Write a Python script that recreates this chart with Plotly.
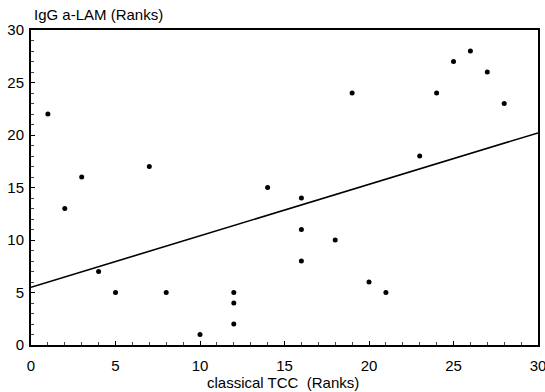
import plotly.graph_objects as go

tcc_ranks = [1, 2, 3, 4, 5, 7, 8, 10, 12, 12, 12, 14, 16, 16, 16, 18, 19, 20, 21, 23, 24, 25, 26, 27, 28]
lam_ranks = [22, 13, 16, 7, 5, 17, 5, 1, 5, 4, 2, 15, 14, 11, 8, 10, 24, 6, 5, 18, 24, 27, 28, 26, 23]

fit_x = [0, 30]
fit_y = [5.5, 20.2]

tick_vals = [0, 5, 10, 15, 20, 25, 30]

font = dict(family="Liberation Sans, Arial, sans-serif", size=15, color="black")

W, H = 545, 392
ML, MR, MT, MB = 31, 7, 30, 47
PW, PH = W - ML - MR, H - MT - MB

fig = go.Figure()
fig.add_trace(go.Scatter(x=fit_x, y=fit_y, mode="lines",
                         line=dict(color="black", width=1.6), hoverinfo="skip"))
fig.add_trace(go.Scatter(x=tcc_ranks, y=lam_ranks, mode="markers",
                         marker=dict(color="black", size=5)))

axis_common = dict(range=[0, 30], tickvals=tick_vals, showgrid=False, zeroline=False,
                   showline=True, linecolor="black", linewidth=2, mirror=True,
                   ticks="inside", ticklen=4, tickcolor="black", tickwidth=1,
                   minor=dict(dtick=1, ticks="inside", ticklen=3, tickcolor="#444"),
                   tickfont=font, automargin=False, ticklabeloverflow="allow")

fig.update_xaxes(**axis_common, ticklabelstandoff=6)
fig.update_yaxes(**axis_common, ticklabelstandoff=2)


def px_x(px):
    return (px - ML) / PW


def px_y(py):
    return 1 - (py - MT) / PH


fig.update_layout(
    width=W, height=H,
    margin=dict(l=ML, r=MR, t=MT, b=MB, autoexpand=False),
    paper_bgcolor="white", plot_bgcolor="white",
    showlegend=False,
    font=font,
    annotations=[
        dict(text="IgG a-LAM (Ranks)", x=px_x(32), y=px_y(15), xref="paper", yref="paper",
             showarrow=False, font=font, xanchor="left", yanchor="middle"),
        dict(text="classical TCC\u00a0\u00a0(Ranks)", x=px_x(283), y=px_y(382), xref="paper", yref="paper",
             showarrow=False, font=font, xanchor="center", yanchor="middle"),
    ],
)

fig.write_html("out.html", config={"displayModeBar": False},
               post_script="document.body.style.margin='0';document.body.style.overflow='hidden';")
